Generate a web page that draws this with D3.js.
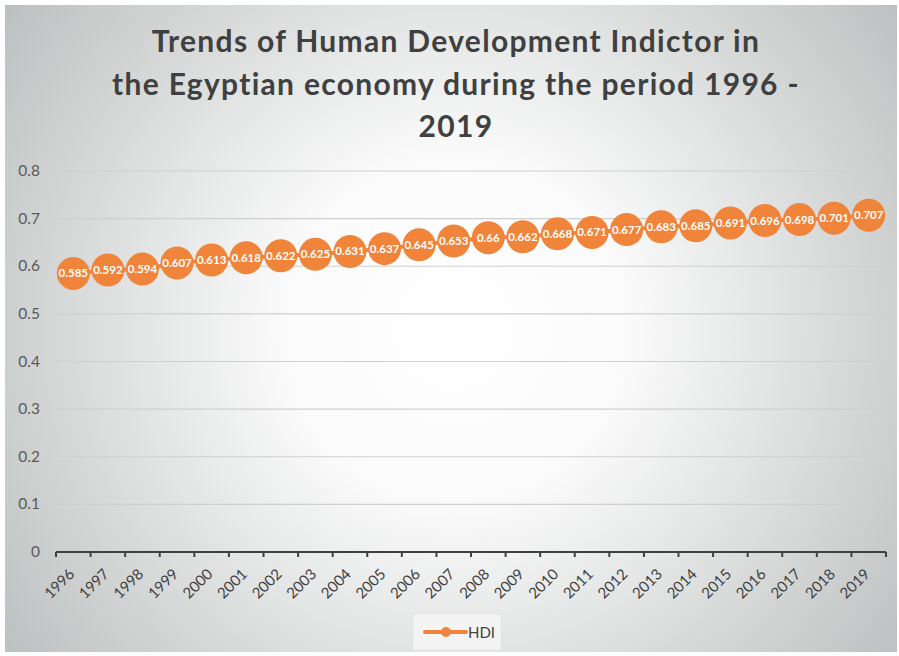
<!DOCTYPE html>
<html>
<head>
<meta charset="utf-8">
<script src="https://cdn.jsdelivr.net/npm/d3@7"></script>
<style>
  body { margin: 0; background: #fff; }
  svg { display: block; }
</style>
</head>
<body>
<div id="chart"></div>
<script>
// chart data
const years = ["1996", "1997", "1998", "1999", "2000", "2001", "2002", "2003", "2004", "2005", "2006", "2007",
               "2008", "2009", "2010", "2011", "2012", "2013", "2014", "2015", "2016", "2017", "2018", "2019"];
const hdi = [0.585, 0.592, 0.594, 0.607, 0.613, 0.618, 0.622, 0.625, 0.631, 0.637, 0.645, 0.653,
             0.66, 0.662, 0.668, 0.671, 0.677, 0.683, 0.685, 0.691, 0.696, 0.698, 0.701, 0.707];
const yTicks = [0, 0.1, 0.2, 0.3, 0.4, 0.5, 0.6, 0.7, 0.8];
const titleLines = ["Trends of Human Development Indictor in",
                    "the Egyptian economy during the period 1996 -",
                    "2019"];
const seriesName = "HDI";

const W = 899, H = 656;
const orange = "#F0843A";
const font = "Lato, 'Open Sans', sans-serif";

const svg = d3.select("#chart").append("svg")
    .attr("width", W)
    .attr("height", H);

// radial background like the spreadsheet chart area
const defs = svg.append("defs");
const grad = defs.append("radialGradient")
    .attr("id", "bg")
    .attr("gradientUnits", "userSpaceOnUse")
    .attr("cx", 455).attr("cy", 330).attr("r", 560);
grad.append("stop").attr("offset", "0%").attr("stop-color", "#ffffff");
grad.append("stop").attr("offset", "30%").attr("stop-color", "#fbfbfb");
grad.append("stop").attr("offset", "100%").attr("stop-color", "#bcbfbf");

svg.append("rect")
    .attr("x", 5).attr("y", 5)
    .attr("width", 892).attr("height", 647)
    .attr("fill", "url(#bg)");

// title
svg.append("g").selectAll("text")
    .data(titleLines)
    .enter()
    .append("text")
    .attr("x", 456)
    .attr("y", (d, i) => 52 + i * 42.5)
    .attr("text-anchor", "middle")
    .style("font-family", font)
    .style("font-weight", "bold")
    .style("font-size", "30px")
    .style("letter-spacing", "1.3px")
    .style("fill", "#404040")
    .text(d => d);

const margin = { left: 56, right: 13, top: 171, bottom: 104 };
const x = d3.scaleBand()
    .domain(years)
    .range([margin.left, W - margin.right]);
const y = d3.scaleLinear()
    .domain([0, 0.8])
    .range([H - margin.bottom, margin.top]);

// gridlines
svg.append("g").selectAll("line")
    .data(yTicks.slice(1))
    .enter()
    .append("line")
    .attr("x1", margin.left).attr("x2", W - margin.right)
    .attr("y1", d => y(d)).attr("y2", d => y(d))
    .attr("stroke", "#cfcfcf")
    .attr("stroke-width", 1.2);

// y axis labels
svg.append("g").selectAll("text")
    .data(yTicks)
    .enter()
    .append("text")
    .attr("x", 40)
    .attr("y", d => y(d) + 5)
    .attr("text-anchor", "end")
    .style("font-family", font)
    .style("font-size", "15.5px")
    .style("fill", "#595959")
    .text(d => d);

// x axis
const xAxis = svg.append("g")
    .attr("transform", `translate(0,${y(0)})`);
xAxis.append("line")
    .attr("x1", margin.left).attr("x2", W - margin.right)
    .attr("stroke", "#404040").attr("stroke-width", 2);
const tickPos = years.map(d => x(d)).concat([W - margin.right]);
xAxis.selectAll(".tick")
    .data(tickPos)
    .enter()
    .append("line")
    .attr("x1", d => d).attr("x2", d => d)
    .attr("y1", 0).attr("y2", 5)
    .attr("stroke", "#404040").attr("stroke-width", 2);
xAxis.selectAll(".lbl")
    .data(years)
    .enter()
    .append("text")
    .attr("transform", d => `translate(${x(d) + x.bandwidth() / 2 + 2},${23}) rotate(-45)`)
    .attr("text-anchor", "end")
    .style("font-family", font)
    .style("font-size", "15px")
    .style("fill", "#404040")
    .text(d => d);

// line + markers
const pts = years.map((d, i) => ({ year: d, v: hdi[i] }));
const line = d3.line()
    .x(d => x(d.year) + x.bandwidth() / 2)
    .y(d => y(d.v));
svg.append("path")
    .datum(pts)
    .attr("d", line)
    .attr("fill", "none")
    .attr("stroke", orange)
    .attr("stroke-width", 4);

svg.append("g").selectAll("circle")
    .data(pts)
    .enter()
    .append("circle")
    .attr("cx", d => x(d.year) + x.bandwidth() / 2)
    .attr("cy", d => y(d.v))
    .attr("r", 16.5)
    .attr("fill", orange);

svg.append("g").selectAll("text")
    .data(pts)
    .enter()
    .append("text")
    .attr("x", d => x(d.year) + x.bandwidth() / 2)
    .attr("y", d => y(d.v) + 4)
    .attr("text-anchor", "middle")
    .style("font-family", font)
    .style("font-weight", "bold")
    .style("font-size", "11.5px")
    .style("fill", "#fff")
    .text(d => d.v);

// legend
const lg = svg.append("g").attr("transform", "translate(413,614)");
lg.append("rect")
    .attr("width", 88).attr("height", 36)
    .attr("fill", "#f4f4f4")
    .attr("stroke", "#e6e6e6");
lg.append("line")
    .attr("x1", 12).attr("x2", 53)
    .attr("y1", 18).attr("y2", 18)
    .attr("stroke", orange).attr("stroke-width", 4)
    .attr("stroke-linecap", "round");
lg.append("circle")
    .attr("cx", 33).attr("cy", 18).attr("r", 5)
    .attr("fill", orange);
lg.append("text")
    .attr("x", 55).attr("y", 23.5)
    .style("font-family", font)
    .style("font-size", "15px")
    .style("fill", "#404040")
    .text(seriesName);
</script>
</body>
</html>
